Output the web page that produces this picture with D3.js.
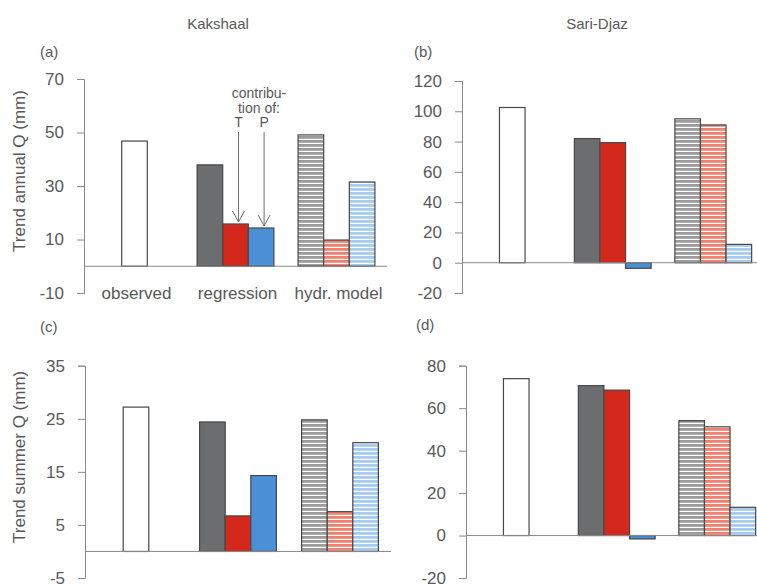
<!DOCTYPE html>
<html>
<head>
<meta charset="utf-8">
<script src="https://cdn.jsdelivr.net/npm/d3@7"></script>
<style>
  body { margin: 0; background: #fff; }
  text { font-family: "Liberation Sans", Arial, sans-serif; fill: #595959; }
</style>
</head>
<body>
<div id="chart"></div>
<script>
"use strict"

// groups along x and the three bar kinds in each group
const groups = ["observed", "regression", "hydr. model"]
const parts = ["total", "T", "P"]

// values (mm); observed has one bar only
const kakAnnual = [[46.8], [37.9, 15.8, 14.3], [49.1, 9.8, 31.5]]
const sariAnnual = [[102.5], [82, 79.3, -3.7], [95, 91, 12.1]]
const kakSummer = [[27.2], [24.4, 6.7, 14.3], [24.8, 7.5, 20.5]]
const sariSummer = [[73.9], [70.6, 68.5, -1.6], [54.1, 51.2, 13.3]]

const ticksA = [-10, 10, 30, 50, 70]
const ticksB = [-20, 0, 20, 40, 60, 80, 100, 120]
const ticksC = [-5, 5, 15, 25, 35]
const ticksD = [-20, 0, 20, 40, 60, 80]

const W = 757, H = 584
const svg = d3.select("#chart").append("svg")
  .attr("width", W).attr("height", H)

// hatch patterns for the model bars
const defs = svg.append("defs")
const hatch = (id, color) => {
  const p = defs.append("pattern").attr("id", id)
    .attr("patternUnits", "userSpaceOnUse").attr("width", 4).attr("height", 4)
  p.append("rect").attr("width", 4).attr("height", 4).attr("fill", "#fff")
  p.append("rect").attr("width", 4).attr("height", 2.8).attr("fill", color)
}
hatch("hg", "#9c9c9c")
hatch("hr", "#f2806f")
hatch("hb", "#a6cbf0")

const solid = ["#6b6d6e", "#d4281c", "#4b8fd6"]
const fillFor = (g, i) => {
  if (g === 0) return "#fff"
  if (g === 1) return solid[i]
  return ["url(#hg)", "url(#hr)", "url(#hb)"][i]
}

function panel(opt) {
  const y = d3.scaleLinear().domain(opt.domain).range([opt.bottom, opt.top])
  const x = d3.scaleBand().domain(groups)
    .range([opt.left, opt.left + 3 * opt.band])
  const xi = d3.scaleBand().domain(parts).range([0, 3 * 25.6])
  const off = (x.bandwidth() - 3 * 25.6) / 2

  const g = svg.append("g")

  // y axis
  const ax = g.append("g")
    .attr("transform", "translate(" + opt.left + ",0)")
    .call(d3.axisLeft(y).tickValues(opt.ticks).tickFormat(d => String(d))
      .tickSize(7).tickPadding(13))
  ax.select(".domain").attr("stroke", "#8a8a8a")
  ax.selectAll(".tick line").attr("stroke", "#8a8a8a")
  ax.selectAll(".tick text").style("font-size", "17px").attr("fill", "#595959")
    .style("font-family", "'Liberation Sans', Arial, sans-serif")

  // bars
  opt.data.forEach((vals, gi) => {
    vals.forEach((v, i) => {
      const bx = vals.length === 1
        ? x(groups[gi]) + x.bandwidth() / 2 - xi.bandwidth() / 2
        : x(groups[gi]) + off + xi(parts[i])
      g.append("rect")
        .attr("x", bx)
        .attr("y", y(Math.max(0, v)))
        .attr("width", xi.bandwidth())
        .attr("height", Math.abs(y(v) - y(0)))
        .attr("fill", fillFor(gi, i))
        .attr("stroke", "#474747")
        .attr("stroke-width", 1.2)
    })
  })

  // zero line
  g.append("line")
    .attr("x1", opt.left).attr("x2", opt.left + 3 * opt.band)
    .attr("y1", y(0)).attr("y2", y(0))
    .attr("stroke", "#8a8a8a")

  g.append("text").attr("x", opt.labelX).attr("y", opt.labelY)
    .style("font-size", "15px").text(opt.label)

  if (opt.yTitle) {
    g.append("text")
      .attr("transform", "translate(25," + ((opt.top + opt.bottom) / 2 - 15) + ") rotate(-90)")
      .attr("text-anchor", "middle").style("font-size", "17px")
      .text(opt.yTitle)
  }
  return {x, y, xi, off}
}

const pa = panel({data: kakAnnual, domain: [-10, 70], ticks: ticksA,
  top: 79, bottom: 293, left: 84, band: 101, label: "(a)", labelX: 40, labelY: 57,
  yTitle: "Trend annual Q (mm)"})
panel({data: sariAnnual, domain: [-20, 120], ticks: ticksB,
  top: 81, bottom: 293, left: 462, band: 100.5, label: "(b)", labelX: 414, labelY: 57})
panel({data: kakSummer, domain: [-5, 35], ticks: ticksC,
  top: 365.7, bottom: 578, left: 85, band: 102, label: "(c)", labelX: 40, labelY: 332,
  yTitle: "Trend summer Q (mm)"})
panel({data: sariSummer, domain: [-20, 80], ticks: ticksD,
  top: 365.7, bottom: 578, left: 466, band: 100.5, label: "(d)", labelX: 416, labelY: 330})

// column titles
svg.append("text").attr("x", 218).attr("y", 29).attr("text-anchor", "middle")
  .style("font-size", "15px").text("Kakshaal")
svg.append("text").attr("x", 597).attr("y", 29).attr("text-anchor", "middle")
  .style("font-size", "15px").text("Sari-Djaz")

// category labels under panel (a)
groups.forEach(c => {
  svg.append("text").attr("x", pa.x(c) + pa.x.bandwidth() / 2 + 2).attr("y", 299)
    .attr("text-anchor", "middle").style("font-size", "17px").text(c)
})

// annotation for the contributions in panel (a)
const ann = svg.append("g")
ann.append("text").attr("x", 259).attr("y", 98).attr("text-anchor", "middle")
  .style("font-size", "14px").text("contribu-")
ann.append("text").attr("x", 259).attr("y", 112.5).attr("text-anchor", "middle")
  .style("font-size", "14px").text("tion of:")
const regX = pa.x("regression") + pa.off
;[["T", 1], ["P", 2]].forEach(([lab, i]) => {
  const cx = regX + pa.xi(parts[i]) + pa.xi.bandwidth() / 2 + 3
  const tip = pa.y(kakAnnual[1][i]) - 2
  ann.append("text").attr("x", cx).attr("y", 127).attr("text-anchor", "middle")
    .style("font-size", "14px").text(lab)
  ann.append("line").attr("x1", cx).attr("x2", cx).attr("y1", 132).attr("y2", tip)
    .attr("stroke", "#6e6e6e").attr("stroke-width", 1)
  ann.append("path")
    .attr("d", "M" + (cx - 6) + "," + (tip - 11) + "L" + cx + "," + tip + "L" + (cx + 6) + "," + (tip - 11))
    .attr("fill", "none").attr("stroke", "#6e6e6e").attr("stroke-width", 1)
})
</script>
</body>
</html>
